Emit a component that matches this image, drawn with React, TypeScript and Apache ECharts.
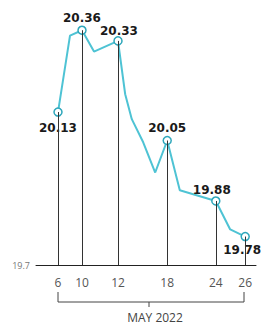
import React, { useEffect, useRef } from "react";
import * as echarts from "echarts";

// Axis positions are "slots" along a drawn (non-uniform) day axis
const dayLabels = ["6", "10", "12", "18", "24", "26"];
const tickSlots = [0, 4, 10, 18.2, 26.3, 31.2];

// Line trace (slot position, price)
const lineSlots = [0, 2, 4, 6, 10, 11.2, 12.3, 14.2, 16.2, 18.2, 20.3, 26.3, 28.7, 31.2];
const lineValues = [20.13, 20.345, 20.36, 20.3, 20.33, 20.18, 20.11, 20.045, 19.96, 20.05, 19.91, 19.88, 19.8, 19.78];

// Labelled points (index into line arrays)
const labelIdx = [0, 2, 4, 9, 11, 13];
const labelPos = ["bottom", "top", "top", "top", "top", "bottom"];
const labelDist = [5, 1, -1, 2, 0, 3];
const labelDx = [0, 0, 1, 0, -4, -3];

const yMin = 19.7;
const yMax = 20.4;
const xAxisTitle = "MAY 2022";

export default function App() {
  const ref = useRef<HTMLDivElement>(null);
  useEffect(() => {
    if (!ref.current) return;
    const chart = echarts.init(ref.current, null, { renderer: "svg" });
    const data = lineSlots.map((s, i) => {
      const li = labelIdx.indexOf(i);
      if (li < 0) return { value: [s, lineValues[i]], symbol: "none" };
      return {
        value: [s, lineValues[i]],
        symbol: "circle",
        symbolSize: 8,
        itemStyle: { color: "#ffffff", borderColor: "#2ea7bb", borderWidth: 1.5 },
        label: {
          show: true,
          position: labelPos[li],
          distance: labelDist[li],
          offset: [labelDx[li], 0],
        },
      };
    });
    const drops = labelIdx.map((i) => [
      { coord: [lineSlots[i], lineValues[i]] },
      { coord: [lineSlots[i], yMin] },
    ]);
    chart.setOption({
      animation: false,
      grid: { left: 36, width: 220, top: 16, height: 249 },
      xAxis: {
        type: "value",
        min: -11 / 3,
        max: 33,
        axisLine: { show: true, lineStyle: { color: "#222", width: 1 } },
        axisTick: { show: false },
        splitLine: { show: false },
        axisLabel: {
          customValues: tickSlots,
          margin: 11,
          color: "#555",
          fontSize: 12,
          fontFamily: "Open Sans",
          formatter: (v: number) => {
            const k = tickSlots.findIndex((t) => Math.abs(t - v) < 1e-6);
            return k >= 0 ? dayLabels[k] : "";
          },
        },
      },
      yAxis: {
        type: "value",
        min: yMin,
        max: yMax,
        axisLine: { show: false },
        axisTick: { show: false },
        splitLine: { show: false },
        axisLabel: {
          customValues: [yMin],
          margin: 6,
          color: "#777",
          fontSize: 9,
          fontFamily: "Open Sans",
          formatter: (v: number) => v.toFixed(1),
        },
      },
      series: [
        {
          type: "line",
          z: 1,
          data: [],
          symbol: "none",
          lineStyle: { opacity: 0 },
          markLine: {
            silent: true,
            symbol: ["none", "none"],
            label: { show: false },
            lineStyle: { color: "#333", width: 1, type: "solid" },
            data: drops,
          },
        },
        {
          type: "line",
          z: 3,
          data,
          smooth: false,
          lineStyle: { color: "#4ec3d4", width: 2 },
          label: {
            show: false,
            color: "#1a1a1a",
            fontSize: 12,
            fontWeight: "bold",
            fontFamily: "DejaVu Sans",
            formatter: (p: any) => p.value[1].toFixed(2),
          },
        },
      ],
      graphic: [
        {
          type: "polyline",
          shape: { points: [[58, 292], [58, 302], [244, 302], [244, 292]] },
          style: { stroke: "#444", lineWidth: 1, fill: null },
        },
        {
          type: "line",
          shape: { x1: 149, y1: 302, x2: 149, y2: 307 },
          style: { stroke: "#444", lineWidth: 1 },
        },
        {
          type: "text",
          x: 155,
          y: 317,
          style: {
            text: xAxisTitle,
            align: "center",
            verticalAlign: "middle",
            fill: "#444",
            fontSize: 12,
            fontFamily: "Open Sans",
          },
        },
      ],
    });
    return () => chart.dispose();
  }, []);
  return (
    <div
      ref={ref}
      style={{ position: "fixed", left: 0, top: 0, width: 264, height: 325, background: "#fff" }}
    />
  );
}
